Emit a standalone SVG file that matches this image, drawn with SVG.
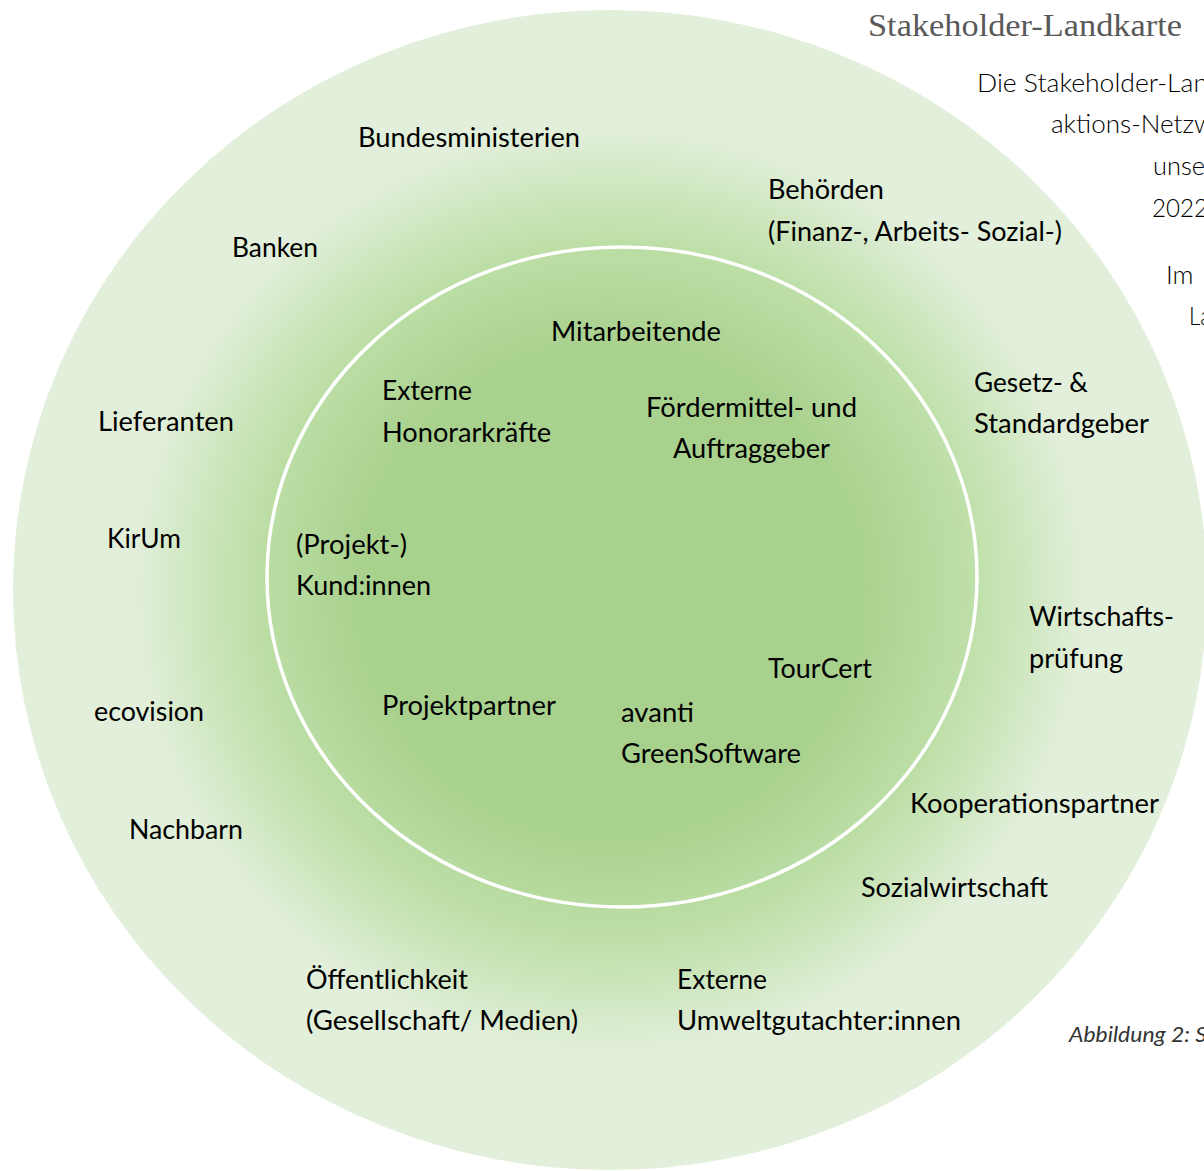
<svg xmlns="http://www.w3.org/2000/svg" width="1204" height="1171" viewBox="0 0 1204 1171">
<defs>
<radialGradient id="g" cx="0.5" cy="0.5" r="0.5">
<stop offset="0" stop-color="#a9d18e"/>
<stop offset="0.42" stop-color="#a9d18e"/>
<stop offset="0.6" stop-color="#bddfa7"/>
<stop offset="0.8" stop-color="#e2efda"/>
<stop offset="1" stop-color="#e2efda"/>
</radialGradient>
<style>
.l{font-family:Lato,"Open Sans",sans-serif;font-size:26px;fill:#000}
.p{font-family:Lato,"Open Sans",sans-serif;font-weight:300;font-size:26px;fill:#000}
.t{font-family:"Liberation Serif",serif;font-size:31px;fill:#595959}
.c{font-family:Lato,"Open Sans",sans-serif;font-style:italic;font-size:21px;fill:#333}
</style>
</defs>
<rect width="1204" height="1171" fill="#fff"/>
<g id="outer-ring"><ellipse cx="610" cy="590" rx="597" ry="580" fill="url(#g)"/></g>
<g id="inner-circle"><ellipse cx="622" cy="577" rx="355" ry="330" fill="none" stroke="#fff" stroke-width="3.5"/></g>
<g id="title"><text class="t" x="868" y="36" textLength="314" lengthAdjust="spacingAndGlyphs">Stakeholder-Landkarte</text></g>
<g id="paragraph">
<text class="p" x="977" y="92" textLength="231" lengthAdjust="spacingAndGlyphs">Die Stakeholder-Lan</text>
<text class="p" x="1051" y="133" textLength="163" lengthAdjust="spacingAndGlyphs">aktions-Netzw</text>
<text class="p" x="1153" y="175" textLength="52" lengthAdjust="spacingAndGlyphs">unse</text>
<text class="p" x="1152" y="217" textLength="56" lengthAdjust="spacingAndGlyphs">2022</text>
<text class="p" x="1166" y="284">Im</text>
<text class="p" x="1189" y="325" textLength="22" lengthAdjust="spacingAndGlyphs">La</text>
</g>
<g id="caption"><text class="c" x="1069" y="1042" textLength="138" lengthAdjust="spacingAndGlyphs">Abbildung 2: S</text></g>
<g id="n-bundesministerien"><text class="l" x="358" y="147" textLength="222" lengthAdjust="spacingAndGlyphs">Bundesministerien</text></g>
<g id="n-banken"><text class="l" x="232" y="257" textLength="86" lengthAdjust="spacingAndGlyphs">Banken</text></g>
<g id="n-behoerden"><text class="l" x="768" y="199" textLength="116" lengthAdjust="spacingAndGlyphs">Behörden</text><text class="l" x="768" y="241" textLength="294" lengthAdjust="spacingAndGlyphs">(Finanz-, Arbeits- Sozial-)</text></g>
<g id="n-mitarbeitende"><text class="l" x="551" y="341" textLength="170" lengthAdjust="spacingAndGlyphs">Mitarbeitende</text></g>
<g id="n-honorarkraefte"><text class="l" x="382" y="400" textLength="90" lengthAdjust="spacingAndGlyphs">Externe</text><text class="l" x="382" y="442" textLength="169" lengthAdjust="spacingAndGlyphs">Honorarkräfte</text></g>
<g id="n-foerdermittel"><text class="l" x="646" y="417" textLength="211" lengthAdjust="spacingAndGlyphs">Fördermittel- und</text><text class="l" x="673" y="458" textLength="157" lengthAdjust="spacingAndGlyphs">Auftraggeber</text></g>
<g id="n-gesetz"><text class="l" x="974" y="392" textLength="114" lengthAdjust="spacingAndGlyphs">Gesetz- &amp;</text><text class="l" x="974" y="433" textLength="175" lengthAdjust="spacingAndGlyphs">Standardgeber</text></g>
<g id="n-lieferanten"><text class="l" x="98" y="431" textLength="136" lengthAdjust="spacingAndGlyphs">Lieferanten</text></g>
<g id="n-kirum"><text class="l" x="107" y="548" textLength="74" lengthAdjust="spacingAndGlyphs">KirUm</text></g>
<g id="n-kunden"><text class="l" x="296" y="554" textLength="111" lengthAdjust="spacingAndGlyphs">(Projekt-)</text><text class="l" x="296" y="595" textLength="135" lengthAdjust="spacingAndGlyphs">Kund:innen</text></g>
<g id="n-wirtschaftspruefung"><text class="l" x="1029" y="626" textLength="145" lengthAdjust="spacingAndGlyphs">Wirtschafts-</text><text class="l" x="1029" y="668" textLength="94" lengthAdjust="spacingAndGlyphs">prüfung</text></g>
<g id="n-tourcert"><text class="l" x="768" y="678" textLength="104" lengthAdjust="spacingAndGlyphs">TourCert</text></g>
<g id="n-projektpartner"><text class="l" x="382" y="715" textLength="174" lengthAdjust="spacingAndGlyphs">Projektpartner</text></g>
<g id="n-avanti"><text class="l" x="621" y="722" textLength="73" lengthAdjust="spacingAndGlyphs">avanti</text><text class="l" x="621" y="763" textLength="180" lengthAdjust="spacingAndGlyphs">GreenSoftware</text></g>
<g id="n-ecovision"><text class="l" x="94" y="721" textLength="110" lengthAdjust="spacingAndGlyphs">ecovision</text></g>
<g id="n-kooperationspartner"><text class="l" x="910" y="813" textLength="249" lengthAdjust="spacingAndGlyphs">Kooperationspartner</text></g>
<g id="n-nachbarn"><text class="l" x="129" y="839" textLength="114" lengthAdjust="spacingAndGlyphs">Nachbarn</text></g>
<g id="n-sozialwirtschaft"><text class="l" x="861" y="897" textLength="187" lengthAdjust="spacingAndGlyphs">Sozialwirtschaft</text></g>
<g id="n-oeffentlichkeit"><text class="l" x="306" y="989" textLength="162" lengthAdjust="spacingAndGlyphs">Öffentlichkeit</text><text class="l" x="306" y="1030" textLength="272" lengthAdjust="spacingAndGlyphs">(Gesellschaft/ Medien)</text></g>
<g id="n-umweltgutachter"><text class="l" x="677" y="989" textLength="90" lengthAdjust="spacingAndGlyphs">Externe</text><text class="l" x="677" y="1030" textLength="284" lengthAdjust="spacingAndGlyphs">Umweltgutachter:innen</text></g>
</svg>
